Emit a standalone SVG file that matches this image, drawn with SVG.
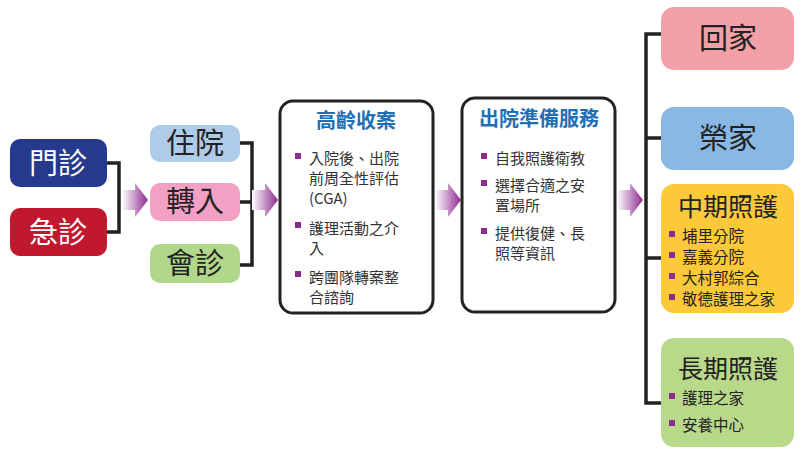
<svg xmlns="http://www.w3.org/2000/svg" width="802" height="453" viewBox="0 0 802 453">
<style>
text{font-family:"Noto Sans CJK TC","Noto Sans CJK SC",sans-serif}
.big{font-size:29px;fill:#222;text-anchor:middle}
.wt{font-size:29px;fill:#fff;text-anchor:middle}
.ttl{font-size:20px;fill:#1f6fb4;font-weight:bold;text-anchor:middle}
.it{font-size:15px;fill:#333}
.it2{font-size:15.5px;fill:#222}
.bl{fill:#8e2b8f}
.panel{fill:#fff;stroke:#222;stroke-width:3}
.ln{fill:none;stroke:#222;stroke-width:3.5}
</style>
<defs>
<linearGradient id="ag" x1="0" x2="1" y1="0" y2="0">
<stop offset="0" stop-color="#fff"/><stop offset="1" stop-color="#8e2b8f"/>
</linearGradient>
<path id="arr" d="M0,-10 H13 V-17 L26,0 L13,17 V10 H0 Z" fill="url(#ag)"/>
</defs>
<g id="connectors">
<path class="ln" d="M107,163 H119 V232 H107"/>
<path class="ln" d="M240,143 H252 V265 H240 M240,202 H252"/>
<path class="ln" d="M661,34 H646 V403 H661 M646,138 H661 M646,258 H661"/>
<use href="#arr" x="122" y="200"/>
<use href="#arr" x="252" y="200"/>
<use href="#arr" x="435" y="200"/>
<use href="#arr" x="617" y="200"/>
</g>
<g id="n-menzhen"><rect x="10" y="139" width="97" height="48" rx="10" fill="#253a8c"/><text class="wt" x="58" y="174">門診</text></g>
<g id="n-jizhen"><rect x="10" y="208" width="97" height="48" rx="10" fill="#c0192f"/><text class="wt" x="58" y="243">急診</text></g>
<g id="n-zhuyuan"><rect x="150" y="125" width="90" height="37" rx="10" fill="#aecbea"/><text class="big" x="195" y="154">住院</text></g>
<g id="n-zhuanru"><rect x="150" y="183" width="90" height="38" rx="10" fill="#f2a0c4"/><text class="big" x="195" y="212">轉入</text></g>
<g id="n-huizhen"><rect x="150" y="244" width="90" height="39" rx="10" fill="#b1d88a"/><text class="big" x="195" y="274">會診</text></g>
<g id="n-gaoling">
<rect class="panel" x="280" y="101" width="153" height="212" rx="13"/>
<text class="ttl" x="356" y="128">高齡收案</text>
<rect class="bl" x="295" y="153" width="6" height="6"/><text class="it" x="309" y="164">入院後、出院</text>
<text class="it" x="309" y="184">前周全性評估</text>
<text class="it" x="309" y="204">(CGA)</text>
<rect class="bl" x="295" y="222" width="6" height="6"/><text class="it" x="309" y="234">護理活動之介</text>
<text class="it" x="309" y="254">入</text>
<rect class="bl" x="295" y="271" width="6" height="6"/><text class="it" x="309" y="283">跨團隊轉案整</text>
<text class="it" x="309" y="303">合諮詢</text>
</g>
<g id="n-chuyuan">
<rect class="panel" x="462" y="98" width="153" height="214" rx="13"/>
<text class="ttl" x="539" y="126">出院準備服務</text>
<rect class="bl" x="481" y="153" width="6" height="6"/><text class="it" x="495" y="164">自我照護衛教</text>
<rect class="bl" x="481" y="180" width="6" height="6"/><text class="it" x="495" y="191">選擇合適之安</text>
<text class="it" x="495" y="211">置場所</text>
<rect class="bl" x="481" y="228" width="6" height="6"/><text class="it" x="495" y="239">提供復健、長</text>
<text class="it" x="495" y="259">照等資訊</text>
</g>
<g id="n-huijia"><rect x="661" y="7" width="133" height="63" rx="13" fill="#f4a0a8"/><text class="big" x="728" y="49">回家</text></g>
<g id="n-rongjia"><rect x="661" y="107" width="133" height="63" rx="13" fill="#8ab8e4"/><text class="big" x="728" y="149">榮家</text></g>
<g id="n-zhongqi">
<rect x="661" y="184" width="133" height="129" rx="13" fill="#fcc93a"/>
<text class="big" x="728" y="216" style="font-size:25px">中期照護</text>
<rect class="bl" x="669" y="231" width="6" height="6"/><text class="it2" x="682" y="242">埔里分院</text>
<rect class="bl" x="669" y="252" width="6" height="6"/><text class="it2" x="682" y="263">嘉義分院</text>
<rect class="bl" x="669" y="273" width="6" height="6"/><text class="it2" x="682" y="284">大村郭綜合</text>
<rect class="bl" x="669" y="294" width="6" height="6"/><text class="it2" x="682" y="305">敬德護理之家</text>
</g>
<g id="n-changqi">
<rect x="661" y="338" width="133" height="109" rx="13" fill="#b9d98a"/>
<text class="big" x="728" y="378" style="font-size:25px">長期照護</text>
<rect class="bl" x="669" y="393" width="6" height="6"/><text class="it2" x="682" y="404">護理之家</text>
<rect class="bl" x="669" y="420" width="6" height="6"/><text class="it2" x="682" y="431">安養中心</text>
</g>
</svg>
